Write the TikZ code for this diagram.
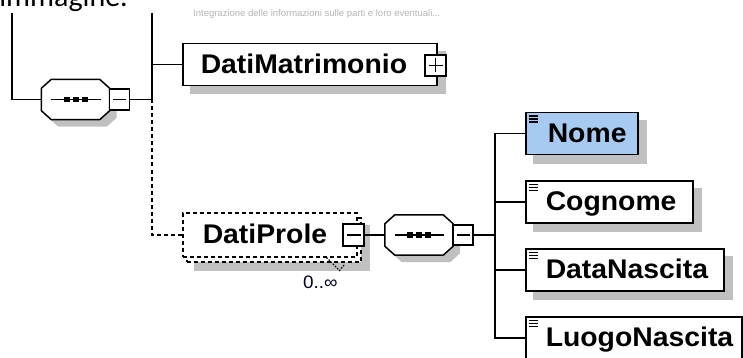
\documentclass[tikz,border=0pt]{standalone}
\usepackage{fontspec}
\setmainfont{Liberation Sans}
\newfontfamily\elemfont[FakeStretch=1.05]{Liberation Sans}
\newfontfamily\calfont{Carlito}
\usetikzlibrary{calc,backgrounds}
\definecolor{shadowc}{HTML}{C0C0C0}
\definecolor{nomeblue}{HTML}{A6CAF0}
\definecolor{faint}{HTML}{B4B4B4}
\newcommand{\octpath}[4]{%
  \path[#1] ($(#2.north west)+(10+#3,#4)$) -- ($(#2.north east)+(-10+#3,#4)$)
    -- ($(#2.north east)+(#3,9+#4)$) -- ($(#2.south east)+(#3,-9+#4)$)
    -- ($(#2.south east)+(-10+#3,#4)$) -- ($(#2.south west)+(10+#3,#4)$)
    -- ($(#2.south west)+(#3,-9+#4)$) -- ($(#2.north west)+(#3,9+#4)$) -- cycle;}
\newcommand{\seqinner}[1]{%
  \draw[line width=1.5pt] ($(#1.west)+(10,0)$) -- ($(#1.east)+(-9,0)$);
  \foreach \dx in {-9,0,9}{\fill ($(#1.center)+(\dx-3,-2.75)$) rectangle ++(6,5.5);}}
\begin{document}
\begin{tikzpicture}[x=1pt,y=-1pt,
  line/.style={line width=1.5pt},
  dline/.style={line width=1.5pt, dash pattern=on 4pt off 3pt},
  elem/.style={draw, line width=1.5pt, fill=white, inner sep=0pt, align=left,
    text height=30pt, text depth=12pt, anchor=north west,
    font=\elemfont\bfseries\fontsize{27}{30}\selectfont},
  leaf/.style={elem, path picture={\foreach \yy in {3.5,6.5,9.5}{\draw[line width=1.5pt]
    ($(path picture bounding box.north west)+(3,\yy)$) -- ++(9,0);}}},
  seq/.style={inner sep=0pt, minimum width=68pt, minimum height=40pt},
  tog/.style={draw, line width=1.5pt, fill=white, inner sep=0pt, minimum width=20pt, minimum height=21pt},
  minusbox/.style={tog, path picture={\draw[line width=1.4pt]
    ($(path picture bounding box.west)+(3.5,0)$) -- ($(path picture bounding box.east)+(-3.5,0)$);}},
  plusbox/.style={tog, minimum width=21pt, path picture={\draw[line width=1.4pt]
    ($(path picture bounding box.west)+(3.5,0)$) -- ($(path picture bounding box.east)+(-3.5,0)$)
    ($(path picture bounding box.north)+(0,3.5)$) -- ($(path picture bounding box.south)+(0,-3.5)$);}},
]
\useasboundingbox (0,0) rectangle (743,358);

% top texts
\node[anchor=base east, inner sep=0pt, font=\calfont\fontsize{30}{36}\selectfont] (imm) at (128,7) {immagine.};
\node[anchor=base west, inner sep=0pt, text=faint, font=\fontsize{9.5}{11}\selectfont] (note) at (193,16.5)
  {Integrazione delle informazioni sulle parti e loro eventuali...};

% sequence 1
\node[seq] (seq1) at (75.5,99.5) {};
\octpath{draw=black, line width=1.5pt, fill=white}{seq1}{0}{0}
\seqinner{seq1}
\node[minusbox] (m1) at (119.5,99.5) {};

% DatiMatrimonio
\node[elem, text width=254pt] (dm) at (182,43) {\noindent\hspace*{18pt}DatiMatrimonio};
\node[plusbox] (p1) at (435.5,65.5) {};

% DatiProle
\node[draw, dline, fill=white, anchor=north west, minimum width=174pt, minimum height=44pt, inner sep=0pt] (dpb) at (186,217) {};
\node[elem, dline, text width=174pt, text height=31pt, text depth=13pt] (dp) at (182,212) {\noindent\hspace*{20pt}DatiProle};
\node[minusbox, minimum width=21pt, minimum height=22pt] (m2) at (353.5,235) {};
\node[anchor=base west, inner sep=0pt, text={black!85!blue}, font=\elemfont\fontsize{18}{20}\selectfont] (card) at (303,288) {0..∞};

% sequence 2
\node[seq] (seq2) at (419,235) {};
\octpath{draw=black, line width=1.5pt, fill=white}{seq2}{0}{0}
\seqinner{seq2}
\node[minusbox, minimum height=20pt] (m3) at (463,235) {};

% children
\node[leaf, fill=nomeblue, text width=112pt] (nome) at (525,112) {\noindent\hspace*{22pt}Nome};
\node[leaf, text width=167pt] (cog) at (525,180) {\noindent\hspace*{20pt}Cognome};
\node[leaf, text width=198pt] (dn) at (525,248) {\noindent\hspace*{20pt}DataNascita};
\node[leaf, text width=216pt] (ln) at (525,316) {\noindent\hspace*{20pt}LuogoNascita};

% shadows
\begin{pgfonlayer}{background}
  \octpath{fill=shadowc}{seq1}{7}{7}
  \octpath{fill=shadowc}{seq2}{7}{7}
  \foreach \n in {dm,dpb,nome,cog,dn,ln}{
    \fill[shadowc] ($(\n.north west)+(8,8)$) rectangle ($(\n.south east)+(8,8)$);}
\end{pgfonlayer}

% connectors
\coordinate (topL) at (12,13);
\coordinate (topM) at (152,13);
\coordinate (j1) at (152,99.5);
\coordinate (j2) at (495,235);
\draw[line] (topL) |- (seq1.west);
\draw[line] (topM) |- (dm.west);
\draw[line] (topM) -- (j1);
\draw[line] (m1.east) -- (j1);
\draw[dline] (j1) |- (dp.west);
\draw[line] (m2.east) -- (seq2.west);
\draw[line] (m3.east) -- (j2);
\foreach \n in {nome,cog,dn,ln}{\draw[line] (j2) |- (\n.west);}
\draw[line width=1.2pt, dash pattern=on 1.5pt off 1.5pt] ($(dp.south east)+(-31,0)$) -- ++(13,13) -- ++(5,-6);
\end{tikzpicture}
\end{document}
